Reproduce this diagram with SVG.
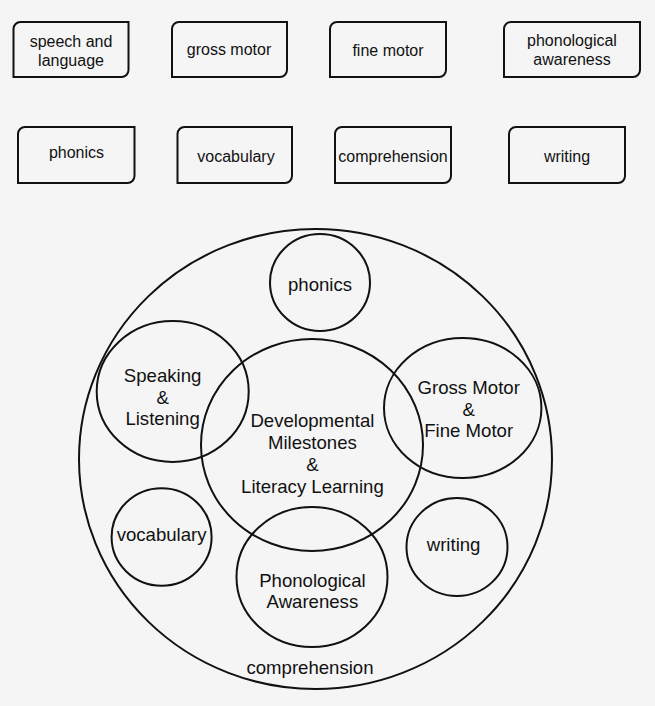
<svg xmlns="http://www.w3.org/2000/svg" width="655" height="706" viewBox="0 0 655 706">
<style>
.bx{fill:none;stroke:#111;stroke-width:2}
.c{fill:none;stroke:#111;stroke-width:2}
.t{font-family:"Liberation Sans",Arial,sans-serif;font-size:16px;fill:#111;text-anchor:middle}
.T{font-family:"Liberation Sans",Arial,sans-serif;font-size:18.6px;fill:#111;text-anchor:middle}
</style>
<rect width="655" height="706" fill="#f5f5f5"/>
<g id="box-speech"><path class="bx" d="M13.5,29 A7,7 0 0 1 20.5,22 H128.5 V70 A7,7 0 0 1 121.5,77 H13.5 Z"/><text class="t" x="71" y="47">speech and</text><text class="t" x="71" y="66">language</text></g>
<g id="box-gross"><path class="bx" d="M172,29 A7,7 0 0 1 179,22 H287 V70 A7,7 0 0 1 280,77 H172 Z"/><text class="t" x="229" y="55">gross motor</text></g>
<g id="box-fine"><path class="bx" d="M330,29 A7,7 0 0 1 337,22 H446 V70 A7,7 0 0 1 439,77 H330 Z"/><text class="t" x="388" y="56">fine motor</text></g>
<g id="box-phonological"><path class="bx" d="M504,29 A7,7 0 0 1 511,22 H640 V70 A7,7 0 0 1 633,77 H504 Z"/><text class="t" x="572" y="46">phonological</text><text class="t" x="572" y="65">awareness</text></g>
<g id="box-phonics"><path class="bx" d="M18,134 A7,7 0 0 1 25,127 H134.5 V176 A7,7 0 0 1 127.5,183 H18 Z"/><text class="t" x="76.5" y="158">phonics</text></g>
<g id="box-vocabulary"><path class="bx" d="M177.5,134 A7,7 0 0 1 184.5,127 H292 V176 A7,7 0 0 1 285,183 H177.5 Z"/><text class="t" x="236" y="162">vocabulary</text></g>
<g id="box-comprehension"><path class="bx" d="M335,134 A7,7 0 0 1 342,127 H451 V176 A7,7 0 0 1 444,183 H335 Z"/><text class="t" x="393" y="162">comprehension</text></g>
<g id="box-writing"><path class="bx" d="M509,134 A7,7 0 0 1 516,127 H625 V176 A7,7 0 0 1 618,183 H509 Z"/><text class="t" x="567" y="162">writing</text></g>
<g id="outer-comprehension"><ellipse class="c" cx="315.5" cy="459" rx="236.5" ry="230"/><text class="T" x="310" y="674">comprehension</text></g>
<g id="c-phonics"><ellipse class="c" cx="320" cy="282.5" rx="50" ry="48.5"/><text class="T" x="320" y="291">phonics</text></g>
<g id="c-speaking"><ellipse class="c" cx="172.7" cy="391.5" rx="76" ry="70.5"/><text class="T" x="162.6" y="382">Speaking</text><text class="T" x="162.6" y="404">&amp;</text><text class="T" x="162.6" y="425">Listening</text></g>
<g id="c-center"><ellipse class="c" cx="312" cy="445" rx="111" ry="106"/><text class="T" x="312.4" y="427">Developmental</text><text class="T" x="312.4" y="449">Milestones</text><text class="T" x="312.4" y="471">&amp;</text><text class="T" x="312.4" y="493">Literacy Learning</text></g>
<g id="c-motor"><ellipse class="c" cx="462.7" cy="408" rx="78.7" ry="70"/><text class="T" x="468.7" y="394">Gross Motor</text><text class="T" x="468.7" y="416">&amp;</text><text class="T" x="468.7" y="437">Fine Motor</text></g>
<g id="c-vocabulary"><ellipse class="c" cx="161.6" cy="537" rx="50" ry="48.7"/><text class="T" x="161.6" y="541">vocabulary</text></g>
<g id="c-phonological"><ellipse class="c" cx="312" cy="577" rx="75.5" ry="70"/><text class="T" x="312.4" y="587">Phonological</text><text class="T" x="312.4" y="608">Awareness</text></g>
<g id="c-writing"><ellipse class="c" cx="457" cy="547" rx="50.5" ry="49"/><text class="T" x="453.6" y="551">writing</text></g>
<g id="connectors"></g>
</svg>
